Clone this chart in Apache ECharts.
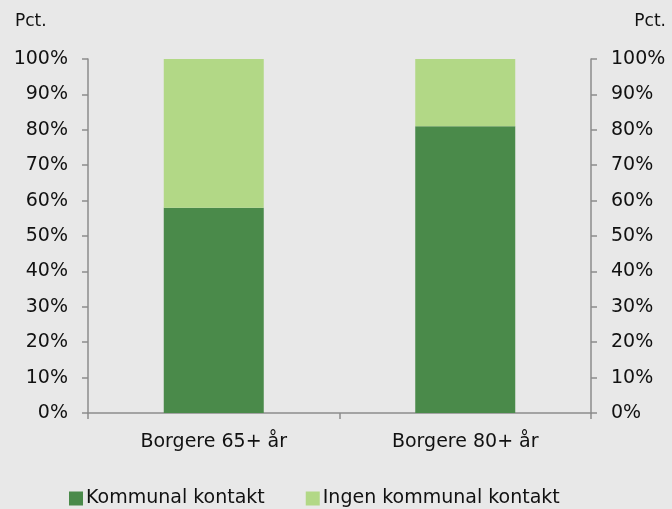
<!DOCTYPE html>
<html>
<head>
<meta charset="utf-8">
<script src="https://cdn.jsdelivr.net/npm/echarts@6/dist/echarts.min.js"></script>
<style>
  html, body { margin: 0; padding: 0; background: #e8e8e8; }
  #chart { width: 672px; height: 509px; }
</style>
</head>
<body>
<div id="chart"></div>
<script>
// data
const categories = ['Borgere 65+ år', 'Borgere 80+ år']
const kommunal = [58, 81]
const ingen = [42, 19]
const seriesNames = ['Kommunal kontakt', 'Ingen kommunal kontakt']

const axisColor = '#8c8c8c'
const font = '"DejaVu Sans", sans-serif'
const fs = 19

const chart = echarts.init(document.getElementById('chart'))

function valueAxis(pos) {
  return {
    type: 'value',
    position: pos,
    min: 0,
    max: 100,
    interval: 10,
    axisLine: { show: true, lineStyle: { color: axisColor, width: 1.5 } },
    axisTick: { show: true, length: 6, lineStyle: { color: axisColor, width: 1.5 } },
    axisLabel: {
      color: '#111', fontSize: fs, fontFamily: font, margin: 20,
      formatter: v => v + '%',
    },
    splitLine: { show: false },
  }
}

chart.setOption({
  backgroundColor: '#e8e8e8',
  textStyle: { fontFamily: font },
  grid: { left: 88, right: 81, top: 59, bottom: 96 },
  graphic: [
    { type: 'text', left: 15, top: 13, style: { text: 'Pct.', fontSize: 17, fill: '#111', fontFamily: font } },
    { type: 'text', right: 6, top: 13, style: { text: 'Pct.', fontSize: 17, fill: '#111', fontFamily: font } },
  ],
  legend: {
    bottom: -4,
    left: 64,
    itemWidth: 14,
    itemHeight: 14,
    itemGap: 41,
    icon: 'rect',
    textStyle: { color: '#111', fontSize: fs, fontFamily: font, padding: [0, 0, 0, -2] },
    data: seriesNames,
  },
  xAxis: {
    type: 'category',
    data: categories,
    axisLine: { lineStyle: { color: axisColor, width: 1.5 } },
    axisTick: { show: true, length: 6, lineStyle: { color: axisColor, width: 1.5 } },
    axisLabel: { color: '#111', fontSize: fs, fontFamily: font, margin: 20 },
  },
  yAxis: [valueAxis('left'), valueAxis('right')],
  series: [
    {
      name: seriesNames[0],
      type: 'bar',
      stack: 'total',
      barWidth: 100,
      data: kommunal,
      itemStyle: { color: '#4a8a4a' },
    },
    {
      name: seriesNames[1],
      type: 'bar',
      stack: 'total',
      barWidth: 100,
      data: ingen,
      itemStyle: { color: '#b2d886' },
    },
  ],
})
</script>
</body>
</html>
